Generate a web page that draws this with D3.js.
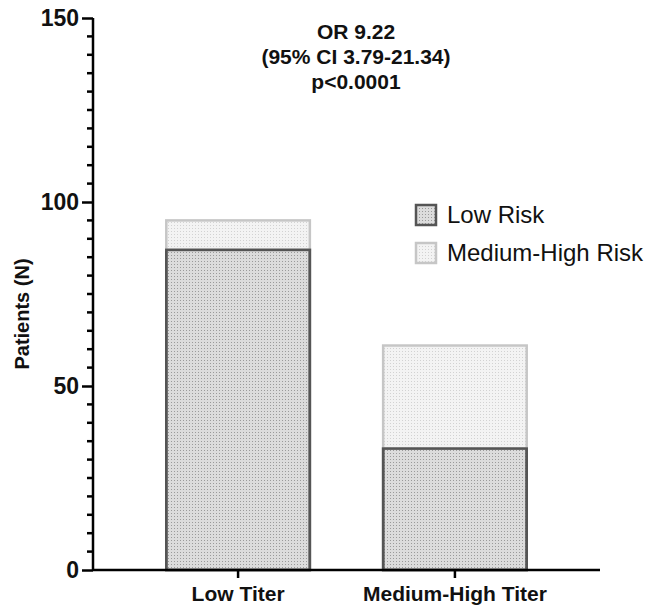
<!DOCTYPE html>
<html>
<head>
<meta charset="utf-8">
<script src="https://cdn.jsdelivr.net/npm/d3@7"></script>
<style>
  html, body { margin: 0; padding: 0; background: #fff; }
  svg { display: block; font-family: "Liberation Sans", Arial, sans-serif; }
</style>
</head>
<body>
<div id="chart"></div>
<script>
// Dades
const categories = ['Low Titer', 'Medium-High Titer'];
const lowRisk = [87, 33];
const mediumHighRisk = [8, 28];
const seriesNames = ['Low Risk', 'Medium-High Risk'];
const yTicks = [0, 50, 100, 150];
const titleLines = ['OR 9.22', '(95% CI 3.79-21.34)', 'p<0.0001'];

const width = 646, height = 608;
const margin = { top: 18, right: 48, bottom: 38, left: 93 };
const innerW = width - margin.left - margin.right;
const innerH = height - margin.top - margin.bottom;

const svg = d3.select('#chart').append('svg')
    .attr('width', width)
    .attr('height', height);

// Patrons de punts
const defs = svg.append('defs');
function dotPattern(id, bg, dot) {
    const p = defs.append('pattern')
        .attr('id', id)
        .attr('width', 3)
        .attr('height', 3)
        .attr('patternUnits', 'userSpaceOnUse');
    p.append('rect').attr('width', 3).attr('height', 3).attr('fill', bg);
    p.append('rect').attr('width', 1).attr('height', 1).attr('fill', dot);
}
dotPattern('pat-low', '#dcdcdc', '#9a9a9a');
dotPattern('pat-high', '#f3f3f3', '#d2d2d2');

const styles = [
    { fill: 'url(#pat-low)', stroke: '#555' },
    { fill: 'url(#pat-high)', stroke: '#c6c6c6' }
];

const g = svg.append('g')
    .attr('transform', `translate(${margin.left},${margin.top})`);

const x = d3.scaleBand()
    .domain(categories)
    .range([0, innerW + 2])
    .paddingInner(0.338)
    .paddingOuter(0.338);

const y = d3.scaleLinear()
    .domain([0, 150])
    .range([innerH, 0]);

// Dades apilades
const rows = categories.map((c, i) => ({ cat: c, low: lowRisk[i], high: mediumHighRisk[i] }));
const stack = d3.stack().keys(['low', 'high'])(rows);

stack.forEach((layer, li) => {
    g.append('g').selectAll('rect')
        .data(layer)
        .enter()
        .append('rect')
        .attr('x', d => x(d.data.cat))
        .attr('width', x.bandwidth())
        .attr('y', d => y(d[1]))
        .attr('height', d => y(d[0]) - y(d[1]))
        .attr('fill', styles[li].fill)
        .attr('stroke', styles[li].stroke)
        .attr('stroke-width', 2.5);
});

// Redibuixar la vora del primer segment per sobre
g.append('g').selectAll('rect')
    .data(stack[0])
    .enter()
    .append('rect')
    .attr('x', d => x(d.data.cat))
    .attr('width', x.bandwidth())
    .attr('y', d => y(d[1]))
    .attr('height', d => y(d[0]) - y(d[1]))
    .attr('fill', 'none')
    .attr('stroke', styles[0].stroke)
    .attr('stroke-width', 2.5);

// Eix Y
const yAxis = g.append('g')
    .call(d3.axisLeft(y).tickValues(yTicks).tickSize(11).tickPadding(3));
yAxis.select('.domain').attr('stroke-width', 2.5).attr('d', `M0,${innerH}V0`);
yAxis.selectAll('.tick line').attr('stroke-width', 2.5);
yAxis.selectAll('.tick text')
    .attr('font-size', 23)
    .attr('font-weight', 'bold')
    .attr('font-family', '"Liberation Sans", Arial, sans-serif')
    .attr('fill', '#111');

// Marques menors
const minor = d3.range(0, 151, 5).filter(v => v % 50 !== 0);
g.append('g').selectAll('line')
    .data(minor)
    .enter()
    .append('line')
    .attr('x1', -6)
    .attr('x2', 0)
    .attr('y1', d => y(d))
    .attr('y2', d => y(d))
    .attr('stroke', '#000')
    .attr('stroke-width', 2.5);

// Eix X
const xAxis = g.append('g')
    .attr('transform', `translate(0,${innerH})`)
    .call(d3.axisBottom(x).tickSize(8).tickPadding(8));
xAxis.select('.domain').attr('stroke-width', 2.5).attr('d', `M0,0H${innerW + 2}`);
xAxis.selectAll('.tick line').attr('stroke-width', 2.5);
xAxis.selectAll('.tick text')
    .attr('font-size', 21)
    .attr('font-weight', 'bold')
    .attr('font-family', '"Liberation Sans", Arial, sans-serif')
    .attr('fill', '#111');

// Etiqueta eix Y
svg.append('text')
    .attr('transform', `translate(29,${margin.top + innerH / 2 + 20}) rotate(-90)`)
    .attr('text-anchor', 'middle')
    .attr('font-size', 20)
    .attr('font-weight', 'bold')
    .attr('fill', '#111')
    .text('Patients (N)');

// Títol estadístic
svg.append('g').selectAll('text')
    .data(titleLines)
    .enter()
    .append('text')
    .attr('x', 356)
    .attr('y', (d, i) => 39 + i * 25)
    .attr('text-anchor', 'middle')
    .attr('font-size', 21)
    .attr('font-weight', 'bold')
    .attr('fill', '#111')
    .text(d => d);

// Llegenda
const legend = svg.selectAll('.legend')
    .data(seriesNames)
    .enter()
    .append('g')
    .attr('class', 'legend')
    .attr('transform', (d, i) => `translate(416, ${205 + i * 38})`);

legend.append('rect')
    .attr('width', 20)
    .attr('height', 20)
    .attr('fill', (d, i) => styles[i].fill)
    .attr('stroke', (d, i) => styles[i].stroke)
    .attr('stroke-width', 2.5);

legend.append('text')
    .attr('x', 31)
    .attr('y', 18)
    .attr('font-size', 24)
    .attr('fill', '#111')
    .text(d => d);
</script>
</body>
</html>
